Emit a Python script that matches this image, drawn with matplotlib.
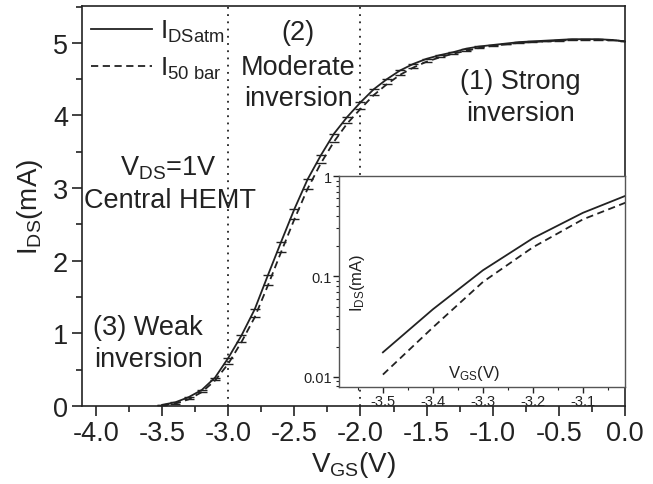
import numpy as np
import matplotlib
matplotlib.use("Agg")
import matplotlib.pyplot as plt
from matplotlib.lines import Line2D
from matplotlib.ticker import MultipleLocator, FormatStrFormatter, LogLocator, NullFormatter, FixedLocator, FixedFormatter

plt.rcParams['font.family'] = ['Liberation Sans', 'DejaVu Sans']
plt.rcParams['mathtext.fontset'] = 'custom'
plt.rcParams['mathtext.rm'] = 'Liberation Sans'
plt.rcParams['mathtext.it'] = 'Liberation Sans:italic'
plt.rcParams['mathtext.bf'] = 'Liberation Sans:bold'

# ---- data ----
vgs = [-3.5, -3.4, -3.3, -3.2, -3.1, -3.0, -2.9, -2.8, -2.7, -2.6, -2.5, -2.4, -2.3, -2.2,
       -2.1, -2.0, -1.9, -1.8, -1.7, -1.6, -1.5, -1.4, -1.3, -1.2, -1.1, -1.0, -0.9, -0.8,
       -0.7, -0.6, -0.5, -0.4, -0.3, -0.2, -0.1, 0.0]
ids_atm = [0.015, 0.05, 0.12, 0.22, 0.39, 0.66, 0.97, 1.33, 1.80, 2.26, 2.71, 3.12, 3.45, 3.75,
           3.98, 4.18, 4.36, 4.50, 4.62, 4.71, 4.78, 4.83, 4.87, 4.92, 4.95, 4.97, 4.99, 5.01,
           5.02, 5.03, 5.04, 5.05, 5.05, 5.05, 5.04, 5.02]
ids_50bar = [0.01, 0.032, 0.09, 0.19, 0.35, 0.58, 0.88, 1.22, 1.66, 2.12, 2.57, 2.99, 3.34, 3.64,
             3.89, 4.09, 4.28, 4.43, 4.56, 4.66, 4.74, 4.80, 4.85, 4.89, 4.93, 4.96, 4.98, 5.00,
             5.01, 5.02, 5.03, 5.04, 5.04, 5.04, 5.04, 5.02]

vgs_inset = [-3.5, -3.4, -3.3, -3.2, -3.1, -3.0]
ids_atm_inset = [0.0175, 0.047, 0.115, 0.24, 0.43, 0.68]
ids_50bar_inset = [0.0105, 0.031, 0.088, 0.195, 0.37, 0.58]

region_bounds = [-3.0, -2.0]

main_xticks = [-4.0, -3.5, -3.0, -2.5, -2.0, -1.5, -1.0, -0.5, 0.0]
main_yticks = [0, 1, 2, 3, 4, 5]
inset_xticks = [-3.5, -3.4, -3.3, -3.2, -3.1]
inset_yticks = [0.01, 0.1, 1]
inset_ylabels = ['0.01', '0.1', '1']

col = '#222222'
fig = plt.figure(figsize=(6.53, 4.85), dpi=100)
ax = fig.add_axes([0.1256, 0.161, 0.8314, 0.825])

ax.plot(vgs, ids_atm, '-', color=col, lw=1.3, marker='_', ms=7, mew=1.0)
ax.plot(vgs, ids_50bar, '--', color=col, lw=1.3, dashes=(4, 2.5), marker='_', ms=7, mew=1.0)
for xb in region_bounds:
    ax.axvline(xb, color=col, ls=(0, (1, 3)), lw=1.3)

ax.set_xlim(-4.106, 0.0)
ax.set_ylim(0, 5.51)
ax.set_xticks(main_xticks)
ax.xaxis.set_major_formatter(FormatStrFormatter('%.1f'))
ax.xaxis.set_minor_locator(MultipleLocator(0.25))
ax.set_yticks(main_yticks)
ax.yaxis.set_minor_locator(MultipleLocator(0.5))
ax.tick_params(which='major', direction='out', length=7, width=1.2, labelsize=19.5, colors=col, pad=3)
ax.tick_params(which='minor', direction='out', length=4, width=1.2, colors=col)
for s in ax.spines.values():
    s.set_linewidth(1.2)
    s.set_color(col)
ax.set_xlabel(r'V$_{\mathrm{GS}}$(V)', fontsize=20, color=col, labelpad=2)
ax.set_ylabel(r'I$_{\mathrm{DS}}$(mA)', fontsize=20, color=col, labelpad=6)

handles = [Line2D([], [], color=col, lw=1.3, ls='-'),
           Line2D([], [], color=col, lw=1.3, ls='--', dashes=(4, 2.5))]
ax.legend(handles, [r'I$_{\mathrm{DSatm}}$', r'I$_{\mathrm{50\ bar}}$'], loc='upper left',
          bbox_to_anchor=(-0.017, 1.015), frameon=False, fontsize=19, handlelength=2.3,
          handletextpad=0.3, labelspacing=0.4, borderaxespad=0.3, labelcolor=col)

tk = dict(fontsize=19.5, color=col, ha='center', va='center', transform=fig.transFigure)
W, H = 653, 485
def t(x, y, s, **kw):
    d = dict(tk); d.update(kw)
    fig.text(x / W, 1 - y / H, s, **d)

t(298, 33, '(2)')
t(298, 68, 'Moderate')
t(298, 99, 'inversion')
t(520, 82, '(1) Strong')
t(520, 114, 'inversion')
t(168, 168, r'V$_{\mathrm{DS}}$=1V')
t(170, 201, 'Central HEMT')
t(148, 328, '(3) Weak')
t(148, 360, 'inversion')

# ---- inset ----
axi = fig.add_axes([0.519, 0.2, 0.438, 0.435])
axi.set_facecolor('white')
axi.semilogy(vgs_inset, ids_atm_inset, '-', color=col, lw=1.3)
axi.semilogy(vgs_inset, ids_50bar_inset, '--', color=col, lw=1.3, dashes=(4, 2.5))
axi.set_xlim(-3.588, -3.016)
axi.set_ylim(0.0079, 1.0)
axi.set_xticks(inset_xticks)
axi.xaxis.set_major_formatter(FormatStrFormatter('%.1f'))
axi.xaxis.set_minor_locator(MultipleLocator(0.05))
axi.yaxis.set_major_locator(FixedLocator(inset_yticks))
axi.yaxis.set_major_formatter(FixedFormatter(inset_ylabels))
axi.yaxis.set_minor_locator(LogLocator(base=10, subs=np.arange(2, 10), numticks=10))
axi.yaxis.set_minor_formatter(NullFormatter())
axi.tick_params(which='major', direction='out', length=4, width=1.0, labelsize=10.5, colors=col, pad=1)
axi.tick_params(which='minor', direction='out', length=2, width=0.8, colors=col)
for s in axi.spines.values():
    s.set_linewidth(1.0)
    s.set_color('#555555')
axi.text(0.065, 0.5, r'I$_{\mathrm{DS}}$(mA)', rotation=90, fontsize=12, color=col,
         ha='center', va='center', transform=axi.transAxes)
axi.text(0.47, 0.07, r'V$_{\mathrm{GS}}$(V)', fontsize=12, color=col,
         ha='center', va='center', transform=axi.transAxes)

fig.savefig('out.png', dpi=100)
